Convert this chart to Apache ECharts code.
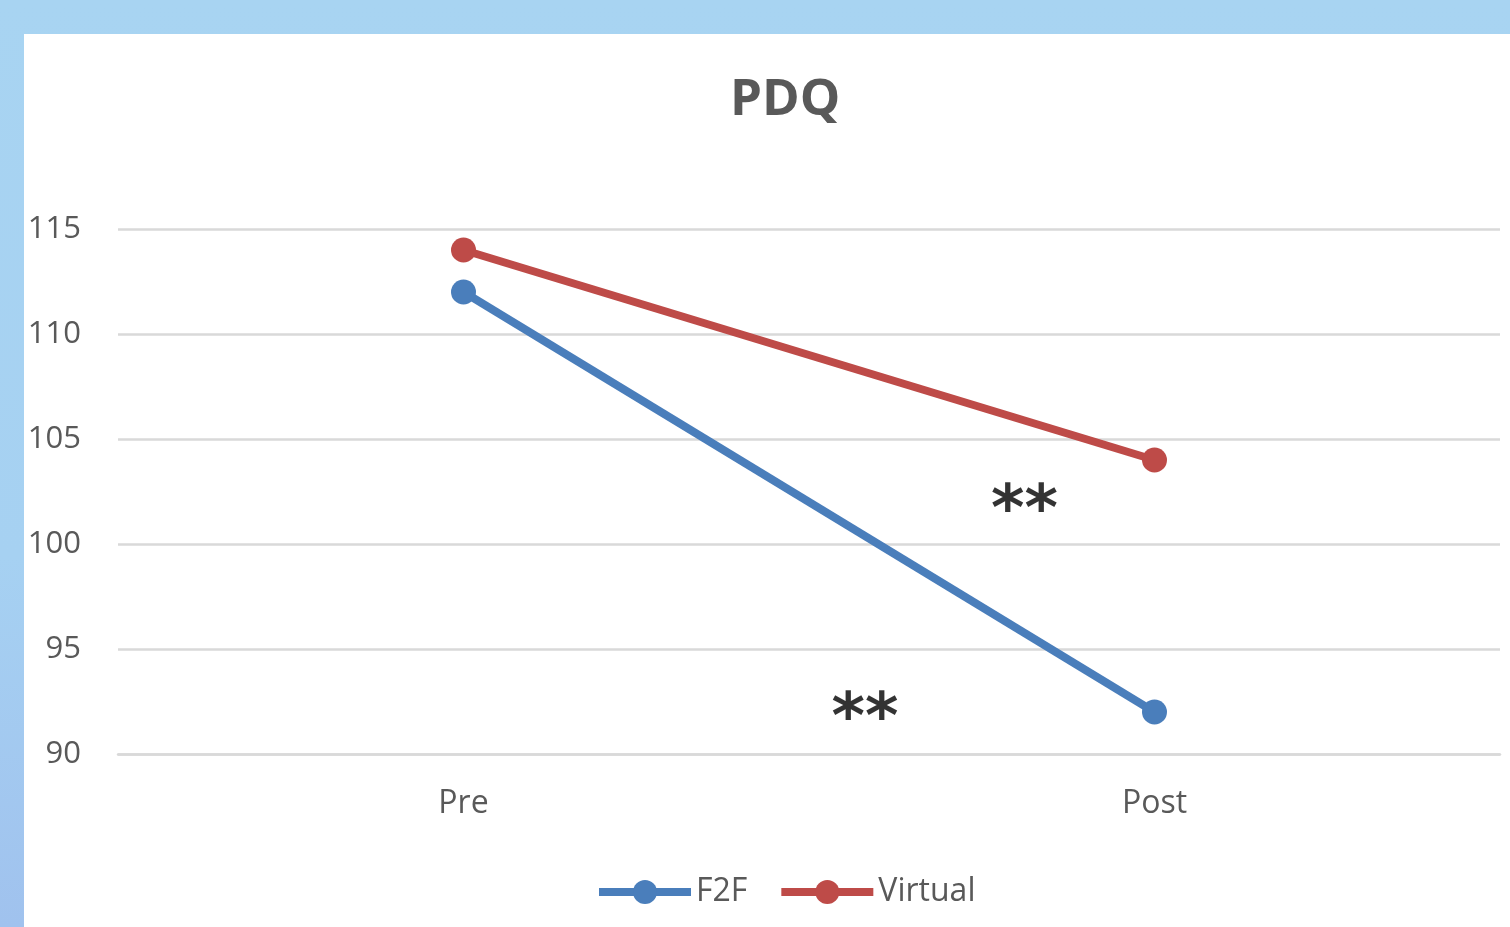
<!DOCTYPE html>
<html><head><meta charset="utf-8">
<script src="https://cdn.jsdelivr.net/npm/echarts@6/dist/echarts.min.js"></script>
<style>
html,body{margin:0;padding:0;width:1510px;height:927px;overflow:hidden;background:linear-gradient(180deg,#a8d4f2 0%,#a6d1f2 60%,#a0c2ee 100%);}
#c{position:absolute;left:24px;top:34px;width:1486px;height:893px;background:#fff;}
</style></head><body>
<div id="c"></div>
<script>
const categories = ['Pre', 'Post'];
const f2f = [112, 92];
const virtual = [114, 104];
const yTicks = { min: 90, max: 115, interval: 5 };
const annotations = [[0.812, 102.2, '**'], [0.581, 92.3, '**']];

const chart = echarts.init(document.getElementById('c'), null, {renderer: 'canvas'});
const font = "'Open Sans', 'Liberation Sans', sans-serif";
chart.setOption({
  animation: false,
  title: { text: 'PDQ', left: 701, top: 36, textStyle: { fontFamily: font, fontSize: 51, fontWeight: 'bold', color: '#595959' } },
  legend: {
    bottom: 14, left: 566, itemWidth: 92, itemHeight: 30, itemGap: 30,
    data: ['F2F', 'Virtual'],
    lineStyle: { width: 8 },
    textStyle: { fontFamily: font, fontSize: 32, color: '#595959', padding: [0,0,0,0] }
  },
  grid: { left: 94, right: 10, top: 195, bottom: 173 },
  xAxis: [{
    type: 'category', data: categories, boundaryGap: true,
    axisLine: { show: true, lineStyle: { color: '#d9d9d9', width: 2.5 } },
    axisTick: { show: false },
    axisLabel: { fontFamily: font, fontSize: 32, color: '#595959', margin: 34 }
  }, {
    type: 'value', min: -0.5, max: 1.5, show: false
  }],
  yAxis: {
    type: 'value', min: yTicks.min, max: yTicks.max, interval: yTicks.interval,
    axisLine: { show: false }, axisTick: { show: false },
    splitLine: { lineStyle: { color: '#d9d9d9', width: 2.5 } },
    axisLabel: { fontFamily: font, fontSize: 31, color: '#595959', margin: 37 }
  },
  series: [
    { name: 'F2F', type: 'line', data: f2f, symbol: 'circle', symbolSize: 25,
      lineStyle: { width: 8, color: '#4a7ebb' }, itemStyle: { color: '#4a7ebb' } },
    { name: 'Virtual', type: 'line', data: virtual, symbol: 'circle', symbolSize: 25,
      lineStyle: { width: 8, color: '#be4b48' }, itemStyle: { color: '#be4b48' } },
    { name: 'sig', type: 'scatter', xAxisIndex: 1, symbolSize: 0,
      data: annotations.map(a => ({ value: [a[0], a[1]], label: { formatter: a[2] } })),
      label: { show: true, position: 'inside', fontFamily: "'DejaVu Sans', sans-serif", fontSize: 64, fontWeight: 'bold', color: '#000', offset: [0, 16] } }
  ]
});
</script>
</body></html>
